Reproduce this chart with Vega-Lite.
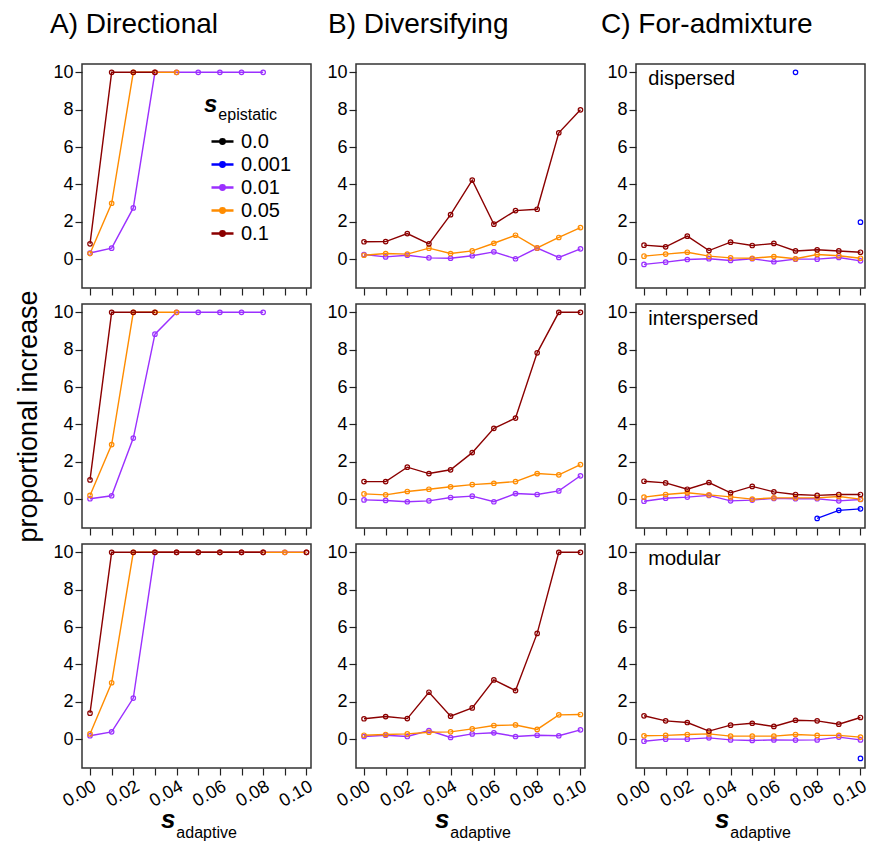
{
  "$schema": "https://vega.github.io/schema/vega-lite/v6.json",
  "padding": {"left": 14, "top": 10, "right": 5, "bottom": 5},
  "background": "white",
  "datasets": {
    "d": [
      {"model":"Directional","arch":"dispersed","eps":"0.01","s":0,"value":0.33},
      {"model":"Directional","arch":"dispersed","eps":"0.01","s":0.01,"value":0.59},
      {"model":"Directional","arch":"dispersed","eps":"0.01","s":0.02,"value":2.74},
      {"model":"Directional","arch":"dispersed","eps":"0.01","s":0.03,"value":10},
      {"model":"Directional","arch":"dispersed","eps":"0.01","s":0.04,"value":10},
      {"model":"Directional","arch":"dispersed","eps":"0.01","s":0.05,"value":10},
      {"model":"Directional","arch":"dispersed","eps":"0.01","s":0.06,"value":10},
      {"model":"Directional","arch":"dispersed","eps":"0.01","s":0.07,"value":10},
      {"model":"Directional","arch":"dispersed","eps":"0.01","s":0.08,"value":10},
      {"model":"Directional","arch":"dispersed","eps":"0.05","s":0,"value":0.3},
      {"model":"Directional","arch":"dispersed","eps":"0.05","s":0.01,"value":2.99},
      {"model":"Directional","arch":"dispersed","eps":"0.05","s":0.02,"value":10},
      {"model":"Directional","arch":"dispersed","eps":"0.05","s":0.03,"value":10},
      {"model":"Directional","arch":"dispersed","eps":"0.05","s":0.04,"value":10},
      {"model":"Directional","arch":"dispersed","eps":"0.1","s":0,"value":0.82},
      {"model":"Directional","arch":"dispersed","eps":"0.1","s":0.01,"value":10},
      {"model":"Directional","arch":"dispersed","eps":"0.1","s":0.02,"value":10},
      {"model":"Directional","arch":"dispersed","eps":"0.1","s":0.03,"value":10},

      {"model":"Directional","arch":"interspersed","eps":"0.01","s":0,"value":0.02},
      {"model":"Directional","arch":"interspersed","eps":"0.01","s":0.01,"value":0.18},
      {"model":"Directional","arch":"interspersed","eps":"0.01","s":0.02,"value":3.27},
      {"model":"Directional","arch":"interspersed","eps":"0.01","s":0.03,"value":8.83},
      {"model":"Directional","arch":"interspersed","eps":"0.01","s":0.04,"value":10},
      {"model":"Directional","arch":"interspersed","eps":"0.01","s":0.05,"value":10},
      {"model":"Directional","arch":"interspersed","eps":"0.01","s":0.06,"value":10},
      {"model":"Directional","arch":"interspersed","eps":"0.01","s":0.07,"value":10},
      {"model":"Directional","arch":"interspersed","eps":"0.01","s":0.08,"value":10},
      {"model":"Directional","arch":"interspersed","eps":"0.05","s":0,"value":0.2},
      {"model":"Directional","arch":"interspersed","eps":"0.05","s":0.01,"value":2.92},
      {"model":"Directional","arch":"interspersed","eps":"0.05","s":0.02,"value":10},
      {"model":"Directional","arch":"interspersed","eps":"0.05","s":0.03,"value":10},
      {"model":"Directional","arch":"interspersed","eps":"0.05","s":0.04,"value":10},
      {"model":"Directional","arch":"interspersed","eps":"0.1","s":0,"value":1.03},
      {"model":"Directional","arch":"interspersed","eps":"0.1","s":0.01,"value":10},
      {"model":"Directional","arch":"interspersed","eps":"0.1","s":0.02,"value":10},
      {"model":"Directional","arch":"interspersed","eps":"0.1","s":0.03,"value":10},

      {"model":"Directional","arch":"modular","eps":"0.01","s":0,"value":0.18},
      {"model":"Directional","arch":"modular","eps":"0.01","s":0.01,"value":0.39},
      {"model":"Directional","arch":"modular","eps":"0.01","s":0.02,"value":2.2},
      {"model":"Directional","arch":"modular","eps":"0.01","s":0.03,"value":10},
      {"model":"Directional","arch":"modular","eps":"0.01","s":0.04,"value":10},
      {"model":"Directional","arch":"modular","eps":"0.01","s":0.05,"value":10},
      {"model":"Directional","arch":"modular","eps":"0.01","s":0.06,"value":10},
      {"model":"Directional","arch":"modular","eps":"0.01","s":0.07,"value":10},
      {"model":"Directional","arch":"modular","eps":"0.01","s":0.08,"value":10},
      {"model":"Directional","arch":"modular","eps":"0.01","s":0.09,"value":10},
      {"model":"Directional","arch":"modular","eps":"0.01","s":0.1,"value":10},
      {"model":"Directional","arch":"modular","eps":"0.05","s":0,"value":0.28},
      {"model":"Directional","arch":"modular","eps":"0.05","s":0.01,"value":3.02},
      {"model":"Directional","arch":"modular","eps":"0.05","s":0.02,"value":10},
      {"model":"Directional","arch":"modular","eps":"0.05","s":0.03,"value":10},
      {"model":"Directional","arch":"modular","eps":"0.05","s":0.04,"value":10},
      {"model":"Directional","arch":"modular","eps":"0.05","s":0.05,"value":10},
      {"model":"Directional","arch":"modular","eps":"0.05","s":0.06,"value":10},
      {"model":"Directional","arch":"modular","eps":"0.05","s":0.07,"value":10},
      {"model":"Directional","arch":"modular","eps":"0.05","s":0.08,"value":10},
      {"model":"Directional","arch":"modular","eps":"0.05","s":0.09,"value":10},
      {"model":"Directional","arch":"modular","eps":"0.05","s":0.1,"value":10},
      {"model":"Directional","arch":"modular","eps":"0.1","s":0,"value":1.39},
      {"model":"Directional","arch":"modular","eps":"0.1","s":0.01,"value":10},
      {"model":"Directional","arch":"modular","eps":"0.1","s":0.02,"value":10},
      {"model":"Directional","arch":"modular","eps":"0.1","s":0.03,"value":10},
      {"model":"Directional","arch":"modular","eps":"0.1","s":0.04,"value":10},
      {"model":"Directional","arch":"modular","eps":"0.1","s":0.05,"value":10},
      {"model":"Directional","arch":"modular","eps":"0.1","s":0.06,"value":10},
      {"model":"Directional","arch":"modular","eps":"0.1","s":0.07,"value":10},
      {"model":"Directional","arch":"modular","eps":"0.1","s":0.08,"value":10},
      {"model":"Directional","arch":"modular","eps":"0.1","s":0.09,"value":null},
      {"model":"Directional","arch":"modular","eps":"0.1","s":0.1,"value":10},

      {"model":"Diversifying","arch":"dispersed","eps":"0.01","s":0,"value":0.25},
      {"model":"Diversifying","arch":"dispersed","eps":"0.01","s":0.01,"value":0.12},
      {"model":"Diversifying","arch":"dispersed","eps":"0.01","s":0.02,"value":0.21},
      {"model":"Diversifying","arch":"dispersed","eps":"0.01","s":0.03,"value":0.07},
      {"model":"Diversifying","arch":"dispersed","eps":"0.01","s":0.04,"value":0.05},
      {"model":"Diversifying","arch":"dispersed","eps":"0.01","s":0.05,"value":0.18},
      {"model":"Diversifying","arch":"dispersed","eps":"0.01","s":0.06,"value":0.39},
      {"model":"Diversifying","arch":"dispersed","eps":"0.01","s":0.07,"value":0.02},
      {"model":"Diversifying","arch":"dispersed","eps":"0.01","s":0.08,"value":0.59},
      {"model":"Diversifying","arch":"dispersed","eps":"0.01","s":0.09,"value":0.09},
      {"model":"Diversifying","arch":"dispersed","eps":"0.01","s":0.1,"value":0.55},
      {"model":"Diversifying","arch":"dispersed","eps":"0.05","s":0,"value":0.21},
      {"model":"Diversifying","arch":"dispersed","eps":"0.05","s":0.01,"value":0.3},
      {"model":"Diversifying","arch":"dispersed","eps":"0.05","s":0.02,"value":0.27},
      {"model":"Diversifying","arch":"dispersed","eps":"0.05","s":0.03,"value":0.59},
      {"model":"Diversifying","arch":"dispersed","eps":"0.05","s":0.04,"value":0.3},
      {"model":"Diversifying","arch":"dispersed","eps":"0.05","s":0.05,"value":0.44},
      {"model":"Diversifying","arch":"dispersed","eps":"0.05","s":0.06,"value":0.85},
      {"model":"Diversifying","arch":"dispersed","eps":"0.05","s":0.07,"value":1.28},
      {"model":"Diversifying","arch":"dispersed","eps":"0.05","s":0.08,"value":0.6},
      {"model":"Diversifying","arch":"dispersed","eps":"0.05","s":0.09,"value":1.16},
      {"model":"Diversifying","arch":"dispersed","eps":"0.05","s":0.1,"value":1.69},
      {"model":"Diversifying","arch":"dispersed","eps":"0.1","s":0,"value":0.93},
      {"model":"Diversifying","arch":"dispersed","eps":"0.1","s":0.01,"value":0.94},
      {"model":"Diversifying","arch":"dispersed","eps":"0.1","s":0.02,"value":1.37},
      {"model":"Diversifying","arch":"dispersed","eps":"0.1","s":0.03,"value":0.82},
      {"model":"Diversifying","arch":"dispersed","eps":"0.1","s":0.04,"value":2.38},
      {"model":"Diversifying","arch":"dispersed","eps":"0.1","s":0.05,"value":4.23},
      {"model":"Diversifying","arch":"dispersed","eps":"0.1","s":0.06,"value":1.87},
      {"model":"Diversifying","arch":"dispersed","eps":"0.1","s":0.07,"value":2.6},
      {"model":"Diversifying","arch":"dispersed","eps":"0.1","s":0.08,"value":2.67},
      {"model":"Diversifying","arch":"dispersed","eps":"0.1","s":0.09,"value":6.76},
      {"model":"Diversifying","arch":"dispersed","eps":"0.1","s":0.1,"value":7.99},

      {"model":"Diversifying","arch":"interspersed","eps":"0.01","s":0,"value":-0.04},
      {"model":"Diversifying","arch":"interspersed","eps":"0.01","s":0.01,"value":-0.07},
      {"model":"Diversifying","arch":"interspersed","eps":"0.01","s":0.02,"value":-0.14},
      {"model":"Diversifying","arch":"interspersed","eps":"0.01","s":0.03,"value":-0.09},
      {"model":"Diversifying","arch":"interspersed","eps":"0.01","s":0.04,"value":0.09},
      {"model":"Diversifying","arch":"interspersed","eps":"0.01","s":0.05,"value":0.16},
      {"model":"Diversifying","arch":"interspersed","eps":"0.01","s":0.06,"value":-0.14},
      {"model":"Diversifying","arch":"interspersed","eps":"0.01","s":0.07,"value":0.3},
      {"model":"Diversifying","arch":"interspersed","eps":"0.01","s":0.08,"value":0.25},
      {"model":"Diversifying","arch":"interspersed","eps":"0.01","s":0.09,"value":0.44},
      {"model":"Diversifying","arch":"interspersed","eps":"0.01","s":0.1,"value":1.25},
      {"model":"Diversifying","arch":"interspersed","eps":"0.05","s":0,"value":0.28},
      {"model":"Diversifying","arch":"interspersed","eps":"0.05","s":0.01,"value":0.23},
      {"model":"Diversifying","arch":"interspersed","eps":"0.05","s":0.02,"value":0.41},
      {"model":"Diversifying","arch":"interspersed","eps":"0.05","s":0.03,"value":0.53},
      {"model":"Diversifying","arch":"interspersed","eps":"0.05","s":0.04,"value":0.66},
      {"model":"Diversifying","arch":"interspersed","eps":"0.05","s":0.05,"value":0.78},
      {"model":"Diversifying","arch":"interspersed","eps":"0.05","s":0.06,"value":0.85},
      {"model":"Diversifying","arch":"interspersed","eps":"0.05","s":0.07,"value":0.94},
      {"model":"Diversifying","arch":"interspersed","eps":"0.05","s":0.08,"value":1.37},
      {"model":"Diversifying","arch":"interspersed","eps":"0.05","s":0.09,"value":1.3},
      {"model":"Diversifying","arch":"interspersed","eps":"0.05","s":0.1,"value":1.85},
      {"model":"Diversifying","arch":"interspersed","eps":"0.1","s":0,"value":0.94},
      {"model":"Diversifying","arch":"interspersed","eps":"0.1","s":0.01,"value":0.94},
      {"model":"Diversifying","arch":"interspersed","eps":"0.1","s":0.02,"value":1.71},
      {"model":"Diversifying","arch":"interspersed","eps":"0.1","s":0.03,"value":1.37},
      {"model":"Diversifying","arch":"interspersed","eps":"0.1","s":0.04,"value":1.57},
      {"model":"Diversifying","arch":"interspersed","eps":"0.1","s":0.05,"value":2.49},
      {"model":"Diversifying","arch":"interspersed","eps":"0.1","s":0.06,"value":3.79},
      {"model":"Diversifying","arch":"interspersed","eps":"0.1","s":0.07,"value":4.34},
      {"model":"Diversifying","arch":"interspersed","eps":"0.1","s":0.08,"value":7.83},
      {"model":"Diversifying","arch":"interspersed","eps":"0.1","s":0.09,"value":10},
      {"model":"Diversifying","arch":"interspersed","eps":"0.1","s":0.1,"value":10},

      {"model":"Diversifying","arch":"modular","eps":"0.01","s":0,"value":0.14},
      {"model":"Diversifying","arch":"modular","eps":"0.01","s":0.01,"value":0.21},
      {"model":"Diversifying","arch":"modular","eps":"0.01","s":0.02,"value":0.14},
      {"model":"Diversifying","arch":"modular","eps":"0.01","s":0.03,"value":0.46},
      {"model":"Diversifying","arch":"modular","eps":"0.01","s":0.04,"value":0.09},
      {"model":"Diversifying","arch":"modular","eps":"0.01","s":0.05,"value":0.28},
      {"model":"Diversifying","arch":"modular","eps":"0.01","s":0.06,"value":0.34},
      {"model":"Diversifying","arch":"modular","eps":"0.01","s":0.07,"value":0.14},
      {"model":"Diversifying","arch":"modular","eps":"0.01","s":0.08,"value":0.21},
      {"model":"Diversifying","arch":"modular","eps":"0.01","s":0.09,"value":0.18},
      {"model":"Diversifying","arch":"modular","eps":"0.01","s":0.1,"value":0.5},
      {"model":"Diversifying","arch":"modular","eps":"0.05","s":0,"value":0.21},
      {"model":"Diversifying","arch":"modular","eps":"0.05","s":0.01,"value":0.25},
      {"model":"Diversifying","arch":"modular","eps":"0.05","s":0.02,"value":0.28},
      {"model":"Diversifying","arch":"modular","eps":"0.05","s":0.03,"value":0.37},
      {"model":"Diversifying","arch":"modular","eps":"0.05","s":0.04,"value":0.39},
      {"model":"Diversifying","arch":"modular","eps":"0.05","s":0.05,"value":0.55},
      {"model":"Diversifying","arch":"modular","eps":"0.05","s":0.06,"value":0.73},
      {"model":"Diversifying","arch":"modular","eps":"0.05","s":0.07,"value":0.76},
      {"model":"Diversifying","arch":"modular","eps":"0.05","s":0.08,"value":0.52},
      {"model":"Diversifying","arch":"modular","eps":"0.05","s":0.09,"value":1.3},
      {"model":"Diversifying","arch":"modular","eps":"0.05","s":0.1,"value":1.32},
      {"model":"Diversifying","arch":"modular","eps":"0.1","s":0,"value":1.09},
      {"model":"Diversifying","arch":"modular","eps":"0.1","s":0.01,"value":1.21},
      {"model":"Diversifying","arch":"modular","eps":"0.1","s":0.02,"value":1.1},
      {"model":"Diversifying","arch":"modular","eps":"0.1","s":0.03,"value":2.51},
      {"model":"Diversifying","arch":"modular","eps":"0.1","s":0.04,"value":1.23},
      {"model":"Diversifying","arch":"modular","eps":"0.1","s":0.05,"value":1.67},
      {"model":"Diversifying","arch":"modular","eps":"0.1","s":0.06,"value":3.17},
      {"model":"Diversifying","arch":"modular","eps":"0.1","s":0.07,"value":2.6},
      {"model":"Diversifying","arch":"modular","eps":"0.1","s":0.08,"value":5.66},
      {"model":"Diversifying","arch":"modular","eps":"0.1","s":0.09,"value":10},
      {"model":"Diversifying","arch":"modular","eps":"0.1","s":0.1,"value":10},

      {"model":"For-admixture","arch":"dispersed","eps":"0.001","s":0.07,"value":10},
      {"model":"For-admixture","arch":"dispersed","eps":"0.001","s":0.08,"value":null},
      {"model":"For-admixture","arch":"dispersed","eps":"0.001","s":0.09,"value":null},
      {"model":"For-admixture","arch":"dispersed","eps":"0.001","s":0.1,"value":1.98},
      {"model":"For-admixture","arch":"dispersed","eps":"0.01","s":0,"value":-0.28},
      {"model":"For-admixture","arch":"dispersed","eps":"0.01","s":0.01,"value":-0.16},
      {"model":"For-admixture","arch":"dispersed","eps":"0.01","s":0.02,"value":-0.02},
      {"model":"For-admixture","arch":"dispersed","eps":"0.01","s":0.03,"value":0.02},
      {"model":"For-admixture","arch":"dispersed","eps":"0.01","s":0.04,"value":-0.07},
      {"model":"For-admixture","arch":"dispersed","eps":"0.01","s":0.05,"value":0.02},
      {"model":"For-admixture","arch":"dispersed","eps":"0.01","s":0.06,"value":-0.14},
      {"model":"For-admixture","arch":"dispersed","eps":"0.01","s":0.07,"value":0},
      {"model":"For-admixture","arch":"dispersed","eps":"0.01","s":0.08,"value":0},
      {"model":"For-admixture","arch":"dispersed","eps":"0.01","s":0.09,"value":0.09},
      {"model":"For-admixture","arch":"dispersed","eps":"0.01","s":0.1,"value":-0.09},
      {"model":"For-admixture","arch":"dispersed","eps":"0.05","s":0,"value":0.16},
      {"model":"For-admixture","arch":"dispersed","eps":"0.05","s":0.01,"value":0.27},
      {"model":"For-admixture","arch":"dispersed","eps":"0.05","s":0.02,"value":0.37},
      {"model":"For-admixture","arch":"dispersed","eps":"0.05","s":0.03,"value":0.16},
      {"model":"For-admixture","arch":"dispersed","eps":"0.05","s":0.04,"value":0.07},
      {"model":"For-admixture","arch":"dispersed","eps":"0.05","s":0.05,"value":0.05},
      {"model":"For-admixture","arch":"dispersed","eps":"0.05","s":0.06,"value":0.14},
      {"model":"For-admixture","arch":"dispersed","eps":"0.05","s":0.07,"value":0.02},
      {"model":"For-admixture","arch":"dispersed","eps":"0.05","s":0.08,"value":0.25},
      {"model":"For-admixture","arch":"dispersed","eps":"0.05","s":0.09,"value":0.18},
      {"model":"For-admixture","arch":"dispersed","eps":"0.05","s":0.1,"value":0.05},
      {"model":"For-admixture","arch":"dispersed","eps":"0.1","s":0,"value":0.75},
      {"model":"For-admixture","arch":"dispersed","eps":"0.1","s":0.01,"value":0.66},
      {"model":"For-admixture","arch":"dispersed","eps":"0.1","s":0.02,"value":1.23},
      {"model":"For-admixture","arch":"dispersed","eps":"0.1","s":0.03,"value":0.46},
      {"model":"For-admixture","arch":"dispersed","eps":"0.1","s":0.04,"value":0.91},
      {"model":"For-admixture","arch":"dispersed","eps":"0.1","s":0.05,"value":0.73},
      {"model":"For-admixture","arch":"dispersed","eps":"0.1","s":0.06,"value":0.84},
      {"model":"For-admixture","arch":"dispersed","eps":"0.1","s":0.07,"value":0.44},
      {"model":"For-admixture","arch":"dispersed","eps":"0.1","s":0.08,"value":0.5},
      {"model":"For-admixture","arch":"dispersed","eps":"0.1","s":0.09,"value":0.44},
      {"model":"For-admixture","arch":"dispersed","eps":"0.1","s":0.1,"value":0.37},

      {"model":"For-admixture","arch":"interspersed","eps":"0.001","s":0.08,"value":-1.03},
      {"model":"For-admixture","arch":"interspersed","eps":"0.001","s":0.09,"value":-0.6},
      {"model":"For-admixture","arch":"interspersed","eps":"0.001","s":0.1,"value":-0.52},
      {"model":"For-admixture","arch":"interspersed","eps":"0.01","s":0,"value":-0.11},
      {"model":"For-admixture","arch":"interspersed","eps":"0.01","s":0.01,"value":0.05},
      {"model":"For-admixture","arch":"interspersed","eps":"0.01","s":0.02,"value":0.11},
      {"model":"For-admixture","arch":"interspersed","eps":"0.01","s":0.03,"value":0.2},
      {"model":"For-admixture","arch":"interspersed","eps":"0.01","s":0.04,"value":-0.09},
      {"model":"For-admixture","arch":"interspersed","eps":"0.01","s":0.05,"value":-0.05},
      {"model":"For-admixture","arch":"interspersed","eps":"0.01","s":0.06,"value":0.04},
      {"model":"For-admixture","arch":"interspersed","eps":"0.01","s":0.07,"value":0.02},
      {"model":"For-admixture","arch":"interspersed","eps":"0.01","s":0.08,"value":0.02},
      {"model":"For-admixture","arch":"interspersed","eps":"0.01","s":0.09,"value":-0.09},
      {"model":"For-admixture","arch":"interspersed","eps":"0.01","s":0.1,"value":-0.02},
      {"model":"For-admixture","arch":"interspersed","eps":"0.05","s":0,"value":0.11},
      {"model":"For-admixture","arch":"interspersed","eps":"0.05","s":0.01,"value":0.25},
      {"model":"For-admixture","arch":"interspersed","eps":"0.05","s":0.02,"value":0.34},
      {"model":"For-admixture","arch":"interspersed","eps":"0.05","s":0.03,"value":0.23},
      {"model":"For-admixture","arch":"interspersed","eps":"0.05","s":0.04,"value":0.12},
      {"model":"For-admixture","arch":"interspersed","eps":"0.05","s":0.05,"value":0},
      {"model":"For-admixture","arch":"interspersed","eps":"0.05","s":0.06,"value":0.07},
      {"model":"For-admixture","arch":"interspersed","eps":"0.05","s":0.07,"value":0.07},
      {"model":"For-admixture","arch":"interspersed","eps":"0.05","s":0.08,"value":0.07},
      {"model":"For-admixture","arch":"interspersed","eps":"0.05","s":0.09,"value":0.14},
      {"model":"For-admixture","arch":"interspersed","eps":"0.05","s":0.1,"value":0},
      {"model":"For-admixture","arch":"interspersed","eps":"0.1","s":0,"value":0.96},
      {"model":"For-admixture","arch":"interspersed","eps":"0.1","s":0.01,"value":0.87},
      {"model":"For-admixture","arch":"interspersed","eps":"0.1","s":0.02,"value":0.53},
      {"model":"For-admixture","arch":"interspersed","eps":"0.1","s":0.03,"value":0.89},
      {"model":"For-admixture","arch":"interspersed","eps":"0.1","s":0.04,"value":0.34},
      {"model":"For-admixture","arch":"interspersed","eps":"0.1","s":0.05,"value":0.68},
      {"model":"For-admixture","arch":"interspersed","eps":"0.1","s":0.06,"value":0.39},
      {"model":"For-admixture","arch":"interspersed","eps":"0.1","s":0.07,"value":0.25},
      {"model":"For-admixture","arch":"interspersed","eps":"0.1","s":0.08,"value":0.2},
      {"model":"For-admixture","arch":"interspersed","eps":"0.1","s":0.09,"value":0.25},
      {"model":"For-admixture","arch":"interspersed","eps":"0.1","s":0.1,"value":0.25},

      {"model":"For-admixture","arch":"modular","eps":"0.001","s":0.1,"value":-1.03},
      {"model":"For-admixture","arch":"modular","eps":"0.01","s":0,"value":-0.11},
      {"model":"For-admixture","arch":"modular","eps":"0.01","s":0.01,"value":0},
      {"model":"For-admixture","arch":"modular","eps":"0.01","s":0.02,"value":0},
      {"model":"For-admixture","arch":"modular","eps":"0.01","s":0.03,"value":0.07},
      {"model":"For-admixture","arch":"modular","eps":"0.01","s":0.04,"value":-0.04},
      {"model":"For-admixture","arch":"modular","eps":"0.01","s":0.05,"value":-0.07},
      {"model":"For-admixture","arch":"modular","eps":"0.01","s":0.06,"value":-0.04},
      {"model":"For-admixture","arch":"modular","eps":"0.01","s":0.07,"value":-0.05},
      {"model":"For-admixture","arch":"modular","eps":"0.01","s":0.08,"value":-0.04},
      {"model":"For-admixture","arch":"modular","eps":"0.01","s":0.09,"value":0.11},
      {"model":"For-admixture","arch":"modular","eps":"0.01","s":0.1,"value":-0.04},
      {"model":"For-admixture","arch":"modular","eps":"0.05","s":0,"value":0.18},
      {"model":"For-admixture","arch":"modular","eps":"0.05","s":0.01,"value":0.2},
      {"model":"For-admixture","arch":"modular","eps":"0.05","s":0.02,"value":0.25},
      {"model":"For-admixture","arch":"modular","eps":"0.05","s":0.03,"value":0.28},
      {"model":"For-admixture","arch":"modular","eps":"0.05","s":0.04,"value":0.16},
      {"model":"For-admixture","arch":"modular","eps":"0.05","s":0.05,"value":0.16},
      {"model":"For-admixture","arch":"modular","eps":"0.05","s":0.06,"value":0.16},
      {"model":"For-admixture","arch":"modular","eps":"0.05","s":0.07,"value":0.25},
      {"model":"For-admixture","arch":"modular","eps":"0.05","s":0.08,"value":0.2},
      {"model":"For-admixture","arch":"modular","eps":"0.05","s":0.09,"value":0.2},
      {"model":"For-admixture","arch":"modular","eps":"0.05","s":0.1,"value":0.11},
      {"model":"For-admixture","arch":"modular","eps":"0.1","s":0,"value":1.25},
      {"model":"For-admixture","arch":"modular","eps":"0.1","s":0.01,"value":0.98},
      {"model":"For-admixture","arch":"modular","eps":"0.1","s":0.02,"value":0.89},
      {"model":"For-admixture","arch":"modular","eps":"0.1","s":0.03,"value":0.43},
      {"model":"For-admixture","arch":"modular","eps":"0.1","s":0.04,"value":0.75},
      {"model":"For-admixture","arch":"modular","eps":"0.1","s":0.05,"value":0.85},
      {"model":"For-admixture","arch":"modular","eps":"0.1","s":0.06,"value":0.68},
      {"model":"For-admixture","arch":"modular","eps":"0.1","s":0.07,"value":1.01},
      {"model":"For-admixture","arch":"modular","eps":"0.1","s":0.08,"value":0.98},
      {"model":"For-admixture","arch":"modular","eps":"0.1","s":0.09,"value":0.8},
      {"model":"For-admixture","arch":"modular","eps":"0.1","s":0.1,"value":1.16}
    ]
  },
  "config": {
    "font": "Liberation Sans",
    "view": {"stroke": "#333333", "strokeWidth": 1.5},
    "axis": {"domain": false, "grid": false, "tickColor": "#222222", "tickSize": 7, "tickWidth": 1.2, "labelFontSize": 18, "labelColor": "#000000", "labelPadding": 2, "labelOverlap": false, "labelFlush": false, "titleFontSize": 27, "titleFontWeight": "normal", "titleColor": "#000000"},
    "axisX": {"labelAngle": -30, "labelAlign": "right", "labelBaseline": "top", "labelPadding": 2},
    "axisY": {"titlePadding": 10},
    "title": {"fontSize": 28, "fontWeight": "normal", "anchor": "start", "frame": "group", "offset": 24, "color": "#000000"}
  },
  "spacing": 9,
  "resolve": {"scale": {"color": "independent"}, "legend": {"color": "independent"}},
  "hconcat": [
    {
      "bounds": "flush",
      "spacing": 16,
      "resolve": {"scale": {"color": "independent"}, "legend": {"color": "independent"}},
      "vconcat": [
        {
          "width": 229, "height": 224,
          "title": {"text": "A) Directional", "dx": -32},
          "encoding": {
            "x": {"field": "s", "type": "quantitative", "scale": {"domain": [-0.0037, 0.1021], "nice": false, "zero": false}, "axis": {"values": [0,0.01,0.02,0.03,0.04,0.05,0.06,0.07,0.08,0.09,0.1], "labels": false, "title": null}},
            "y": {"field": "value", "type": "quantitative", "scale": {"domain": [-1.544, 10.444], "nice": false, "zero": false}, "axis": {"values": [0,2,4,6,8,10], "title": null}}
          },
          "layer": [
            {"data": {"name": "d"}, "transform": [{"filter": "datum.model=='Directional' && datum.arch=='dispersed'"}], "mark": {"type": "line", "strokeWidth": 1.4, "invalid": "break-paths-filter-domains"},
             "encoding": {"color": {"field": "eps", "type": "nominal", "scale": {"domain": ["0.0","0.001","0.01","0.05","0.1"], "range": ["#000000","#0000FF","#9B30FF","#FF8C00","#8B0000"]},
               "legend": {"orient": "none", "legendX": 128, "legendY": 65, "title": null, "labelFontSize": 20, "labelColor": "#000000", "labelOffset": 6, "symbolType": "M-1,0H1M-0.2,0A0.2,0.2 0 1,0 0.2,0A0.2,0.2 0 1,0 -0.2,0", "symbolSize": 484, "symbolStrokeWidth": 2.5, "rowPadding": 0, "padding": 0}}}},
            {"data": {"name": "d"}, "transform": [{"filter": "datum.model=='Directional' && datum.arch=='dispersed'"}], "mark": {"type": "point", "size": 20, "strokeWidth": 1.2, "filled": false, "opacity": 1},
             "encoding": {"color": {"field": "eps", "type": "nominal", "scale": {"domain": ["0.0","0.001","0.01","0.05","0.1"], "range": ["#000000","#0000FF","#9B30FF","#FF8C00","#8B0000"]},
               "legend": {"orient": "none", "legendX": 128, "legendY": 65, "title": null, "labelFontSize": 20, "labelColor": "#000000", "labelOffset": 6, "symbolType": "M-1,0H1M-0.2,0A0.2,0.2 0 1,0 0.2,0A0.2,0.2 0 1,0 -0.2,0", "symbolSize": 484, "symbolStrokeWidth": 2.5, "rowPadding": 0, "padding": 0}}}},
            {"data": {"name": "d"}, "transform": [{"filter": "datum.model=='Directional' && datum.arch=='dispersed' && datum.eps=='0.1' && datum.s==0"}], "mark": {"type": "text", "fontSize": 24, "fontWeight": "bold", "fontStyle": "italic", "align": "right", "baseline": "alphabetic", "fill": "#000000"}, "encoding": {"text": {"value": "s"}, "x": {"datum": 0.0588}, "y": {"datum": 7.85}}},
            {"data": {"name": "d"}, "transform": [{"filter": "datum.model=='Directional' && datum.arch=='dispersed' && datum.eps=='0.1' && datum.s==0"}], "mark": {"type": "text", "fontSize": 16, "align": "left", "baseline": "alphabetic", "fill": "#000000"}, "encoding": {"text": {"value": "epistatic"}, "x": {"datum": 0.0593}, "y": {"datum": 7.47}}}
          ]
        },
        {
          "width": 229, "height": 224,
          "encoding": {
            "x": {"field": "s", "type": "quantitative", "scale": {"domain": [-0.0037, 0.1021], "nice": false, "zero": false}, "axis": {"values": [0,0.01,0.02,0.03,0.04,0.05,0.06,0.07,0.08,0.09,0.1], "labels": false, "title": null}},
            "y": {"field": "value", "type": "quantitative", "scale": {"domain": [-1.544, 10.444], "nice": false, "zero": false}, "axis": {"values": [0,2,4,6,8,10], "title": "proportional increase"}},
            "color": {"field": "eps", "type": "nominal", "scale": {"domain": ["0.0","0.001","0.01","0.05","0.1"], "range": ["#000000","#0000FF","#9B30FF","#FF8C00","#8B0000"]}, "legend": null}
          },
          "layer": [
            {"data": {"name": "d"}, "transform": [{"filter": "datum.model=='Directional' && datum.arch=='interspersed'"}], "mark": {"type": "line", "strokeWidth": 1.4, "invalid": "break-paths-filter-domains"}},
            {"data": {"name": "d"}, "transform": [{"filter": "datum.model=='Directional' && datum.arch=='interspersed'"}], "mark": {"type": "point", "size": 20, "strokeWidth": 1.2, "filled": false, "opacity": 1}}
          ]
        },
        {
          "width": 229, "height": 224,
          "encoding": {
            "x": {"field": "s", "type": "quantitative", "scale": {"domain": [-0.0037, 0.1021], "nice": false, "zero": false}, "axis": {"values": [0,0.01,0.02,0.03,0.04,0.05,0.06,0.07,0.08,0.09,0.1], "title": null, "labelExpr": "round(datum.value*100) % 2 == 0 ? format(datum.value, '.2f') : ''"}},
            "y": {"field": "value", "type": "quantitative", "scale": {"domain": [-1.544, 10.444], "nice": false, "zero": false}, "axis": {"values": [0,2,4,6,8,10], "title": null}}
          },
          "layer": [
            {"data": {"name": "d"}, "transform": [{"filter": "datum.model=='Directional' && datum.arch=='modular'"}], "mark": {"type": "line", "strokeWidth": 1.4, "invalid": "break-paths-filter-domains"},
             "encoding": {"color": {"field": "eps", "type": "nominal", "scale": {"domain": ["0.0","0.001","0.01","0.05","0.1"], "range": ["#000000","#0000FF","#9B30FF","#FF8C00","#8B0000"]}, "legend": null}}},
            {"data": {"name": "d"}, "transform": [{"filter": "datum.model=='Directional' && datum.arch=='modular'"}], "mark": {"type": "point", "size": 20, "strokeWidth": 1.2, "filled": false, "opacity": 1},
             "encoding": {"color": {"field": "eps", "type": "nominal", "scale": {"domain": ["0.0","0.001","0.01","0.05","0.1"], "range": ["#000000","#0000FF","#9B30FF","#FF8C00","#8B0000"]}, "legend": null}}},
            {"data": {"name": "d"}, "transform": [{"filter": "datum.model=='Directional' && datum.arch=='modular' && datum.eps=='0.1' && datum.s==0"}], "mark": {"type": "text", "fontSize": 26, "fontWeight": "bold", "fontStyle": "italic", "align": "right", "baseline": "alphabetic", "fill": "#000000"}, "encoding": {"text": {"value": "s"}, "x": {"datum": 0.0395}, "y": {"datum": -4.74}}},
            {"data": {"name": "d"}, "transform": [{"filter": "datum.model=='Directional' && datum.arch=='modular' && datum.eps=='0.1' && datum.s==0"}], "mark": {"type": "text", "fontSize": 16, "align": "left", "baseline": "alphabetic", "fill": "#000000"}, "encoding": {"text": {"value": "adaptive"}, "x": {"datum": 0.0399}, "y": {"datum": -5.27}}}
          ]
        }
      ]
    },
    {
      "bounds": "flush",
      "spacing": 16,
      "resolve": {"scale": {"color": "independent"}, "legend": {"color": "independent"}},
      "vconcat": [
        {
          "width": 229, "height": 224,
          "title": {"text": "B) Diversifying", "dx": -28},
          "encoding": {
            "x": {"field": "s", "type": "quantitative", "scale": {"domain": [-0.0037, 0.1021], "nice": false, "zero": false}, "axis": {"values": [0,0.01,0.02,0.03,0.04,0.05,0.06,0.07,0.08,0.09,0.1], "labels": false, "title": null}},
            "y": {"field": "value", "type": "quantitative", "scale": {"domain": [-1.544, 10.444], "nice": false, "zero": false}, "axis": {"values": [0,2,4,6,8,10], "title": null}},
            "color": {"field": "eps", "type": "nominal", "scale": {"domain": ["0.0","0.001","0.01","0.05","0.1"], "range": ["#000000","#0000FF","#9B30FF","#FF8C00","#8B0000"]}, "legend": null}
          },
          "layer": [
            {"data": {"name": "d"}, "transform": [{"filter": "datum.model=='Diversifying' && datum.arch=='dispersed'"}], "mark": {"type": "line", "strokeWidth": 1.4, "invalid": "break-paths-filter-domains"}},
            {"data": {"name": "d"}, "transform": [{"filter": "datum.model=='Diversifying' && datum.arch=='dispersed'"}], "mark": {"type": "point", "size": 20, "strokeWidth": 1.2, "filled": false, "opacity": 1}}
          ]
        },
        {
          "width": 229, "height": 224,
          "encoding": {
            "x": {"field": "s", "type": "quantitative", "scale": {"domain": [-0.0037, 0.1021], "nice": false, "zero": false}, "axis": {"values": [0,0.01,0.02,0.03,0.04,0.05,0.06,0.07,0.08,0.09,0.1], "labels": false, "title": null}},
            "y": {"field": "value", "type": "quantitative", "scale": {"domain": [-1.544, 10.444], "nice": false, "zero": false}, "axis": {"values": [0,2,4,6,8,10], "title": null}},
            "color": {"field": "eps", "type": "nominal", "scale": {"domain": ["0.0","0.001","0.01","0.05","0.1"], "range": ["#000000","#0000FF","#9B30FF","#FF8C00","#8B0000"]}, "legend": null}
          },
          "layer": [
            {"data": {"name": "d"}, "transform": [{"filter": "datum.model=='Diversifying' && datum.arch=='interspersed'"}], "mark": {"type": "line", "strokeWidth": 1.4, "invalid": "break-paths-filter-domains"}},
            {"data": {"name": "d"}, "transform": [{"filter": "datum.model=='Diversifying' && datum.arch=='interspersed'"}], "mark": {"type": "point", "size": 20, "strokeWidth": 1.2, "filled": false, "opacity": 1}}
          ]
        },
        {
          "width": 229, "height": 224,
          "encoding": {
            "x": {"field": "s", "type": "quantitative", "scale": {"domain": [-0.0037, 0.1021], "nice": false, "zero": false}, "axis": {"values": [0,0.01,0.02,0.03,0.04,0.05,0.06,0.07,0.08,0.09,0.1], "title": null, "labelExpr": "round(datum.value*100) % 2 == 0 ? format(datum.value, '.2f') : ''"}},
            "y": {"field": "value", "type": "quantitative", "scale": {"domain": [-1.544, 10.444], "nice": false, "zero": false}, "axis": {"values": [0,2,4,6,8,10], "title": null}}
          },
          "layer": [
            {"data": {"name": "d"}, "transform": [{"filter": "datum.model=='Diversifying' && datum.arch=='modular'"}], "mark": {"type": "line", "strokeWidth": 1.4, "invalid": "break-paths-filter-domains"},
             "encoding": {"color": {"field": "eps", "type": "nominal", "scale": {"domain": ["0.0","0.001","0.01","0.05","0.1"], "range": ["#000000","#0000FF","#9B30FF","#FF8C00","#8B0000"]}, "legend": null}}},
            {"data": {"name": "d"}, "transform": [{"filter": "datum.model=='Diversifying' && datum.arch=='modular'"}], "mark": {"type": "point", "size": 20, "strokeWidth": 1.2, "filled": false, "opacity": 1},
             "encoding": {"color": {"field": "eps", "type": "nominal", "scale": {"domain": ["0.0","0.001","0.01","0.05","0.1"], "range": ["#000000","#0000FF","#9B30FF","#FF8C00","#8B0000"]}, "legend": null}}},
            {"data": {"name": "d"}, "transform": [{"filter": "datum.model=='Diversifying' && datum.arch=='modular' && datum.eps=='0.1' && datum.s==0"}], "mark": {"type": "text", "fontSize": 26, "fontWeight": "bold", "fontStyle": "italic", "align": "right", "baseline": "alphabetic", "fill": "#000000"}, "encoding": {"text": {"value": "s"}, "x": {"datum": 0.0395}, "y": {"datum": -4.74}}},
            {"data": {"name": "d"}, "transform": [{"filter": "datum.model=='Diversifying' && datum.arch=='modular' && datum.eps=='0.1' && datum.s==0"}], "mark": {"type": "text", "fontSize": 16, "align": "left", "baseline": "alphabetic", "fill": "#000000"}, "encoding": {"text": {"value": "adaptive"}, "x": {"datum": 0.0399}, "y": {"datum": -5.27}}}
          ]
        }
      ]
    },
    {
      "bounds": "flush",
      "spacing": 16,
      "resolve": {"scale": {"color": "independent"}, "legend": {"color": "independent"}},
      "vconcat": [
        {
          "width": 229, "height": 224,
          "title": {"text": "C) For-admixture", "dx": -35},
          "encoding": {
            "x": {"field": "s", "type": "quantitative", "scale": {"domain": [-0.0037, 0.1021], "nice": false, "zero": false}, "axis": {"values": [0,0.01,0.02,0.03,0.04,0.05,0.06,0.07,0.08,0.09,0.1], "labels": false, "title": null}},
            "y": {"field": "value", "type": "quantitative", "scale": {"domain": [-1.544, 10.444], "nice": false, "zero": false}, "axis": {"values": [0,2,4,6,8,10], "title": null}}
          },
          "layer": [
            {"data": {"name": "d"}, "transform": [{"filter": "datum.model=='For-admixture' && datum.arch=='dispersed'"}], "mark": {"type": "line", "strokeWidth": 1.4, "invalid": "break-paths-filter-domains"},
             "encoding": {"color": {"field": "eps", "type": "nominal", "scale": {"domain": ["0.0","0.001","0.01","0.05","0.1"], "range": ["#000000","#0000FF","#9B30FF","#FF8C00","#8B0000"]}, "legend": null}}},
            {"data": {"name": "d"}, "transform": [{"filter": "datum.model=='For-admixture' && datum.arch=='dispersed'"}], "mark": {"type": "point", "size": 20, "strokeWidth": 1.2, "filled": false, "opacity": 1},
             "encoding": {"color": {"field": "eps", "type": "nominal", "scale": {"domain": ["0.0","0.001","0.01","0.05","0.1"], "range": ["#000000","#0000FF","#9B30FF","#FF8C00","#8B0000"]}, "legend": null}}},
            {"data": {"name": "d"}, "transform": [{"filter": "datum.model=='For-admixture' && datum.arch=='dispersed' && datum.eps=='0.1' && datum.s==0"}], "mark": {"type": "text", "fontSize": 20, "align": "left", "baseline": "alphabetic", "fill": "#000000"}, "encoding": {"text": {"value": "dispersed"}, "x": {"datum": 0.002}, "y": {"datum": 9.3}}}
          ]
        },
        {
          "width": 229, "height": 224,
          "encoding": {
            "x": {"field": "s", "type": "quantitative", "scale": {"domain": [-0.0037, 0.1021], "nice": false, "zero": false}, "axis": {"values": [0,0.01,0.02,0.03,0.04,0.05,0.06,0.07,0.08,0.09,0.1], "labels": false, "title": null}},
            "y": {"field": "value", "type": "quantitative", "scale": {"domain": [-1.544, 10.444], "nice": false, "zero": false}, "axis": {"values": [0,2,4,6,8,10], "title": null}}
          },
          "layer": [
            {"data": {"name": "d"}, "transform": [{"filter": "datum.model=='For-admixture' && datum.arch=='interspersed'"}], "mark": {"type": "line", "strokeWidth": 1.4, "invalid": "break-paths-filter-domains"},
             "encoding": {"color": {"field": "eps", "type": "nominal", "scale": {"domain": ["0.0","0.001","0.01","0.05","0.1"], "range": ["#000000","#0000FF","#9B30FF","#FF8C00","#8B0000"]}, "legend": null}}},
            {"data": {"name": "d"}, "transform": [{"filter": "datum.model=='For-admixture' && datum.arch=='interspersed'"}], "mark": {"type": "point", "size": 20, "strokeWidth": 1.2, "filled": false, "opacity": 1},
             "encoding": {"color": {"field": "eps", "type": "nominal", "scale": {"domain": ["0.0","0.001","0.01","0.05","0.1"], "range": ["#000000","#0000FF","#9B30FF","#FF8C00","#8B0000"]}, "legend": null}}},
            {"data": {"name": "d"}, "transform": [{"filter": "datum.model=='For-admixture' && datum.arch=='interspersed' && datum.eps=='0.1' && datum.s==0"}], "mark": {"type": "text", "fontSize": 20, "align": "left", "baseline": "alphabetic", "fill": "#000000"}, "encoding": {"text": {"value": "interspersed"}, "x": {"datum": 0.002}, "y": {"datum": 9.3}}}
          ]
        },
        {
          "width": 229, "height": 224,
          "encoding": {
            "x": {"field": "s", "type": "quantitative", "scale": {"domain": [-0.0037, 0.1021], "nice": false, "zero": false}, "axis": {"values": [0,0.01,0.02,0.03,0.04,0.05,0.06,0.07,0.08,0.09,0.1], "title": null, "labelExpr": "round(datum.value*100) % 2 == 0 ? format(datum.value, '.2f') : ''"}},
            "y": {"field": "value", "type": "quantitative", "scale": {"domain": [-1.544, 10.444], "nice": false, "zero": false}, "axis": {"values": [0,2,4,6,8,10], "title": null}}
          },
          "layer": [
            {"data": {"name": "d"}, "transform": [{"filter": "datum.model=='For-admixture' && datum.arch=='modular'"}], "mark": {"type": "line", "strokeWidth": 1.4, "invalid": "break-paths-filter-domains"},
             "encoding": {"color": {"field": "eps", "type": "nominal", "scale": {"domain": ["0.0","0.001","0.01","0.05","0.1"], "range": ["#000000","#0000FF","#9B30FF","#FF8C00","#8B0000"]}, "legend": null}}},
            {"data": {"name": "d"}, "transform": [{"filter": "datum.model=='For-admixture' && datum.arch=='modular'"}], "mark": {"type": "point", "size": 20, "strokeWidth": 1.2, "filled": false, "opacity": 1},
             "encoding": {"color": {"field": "eps", "type": "nominal", "scale": {"domain": ["0.0","0.001","0.01","0.05","0.1"], "range": ["#000000","#0000FF","#9B30FF","#FF8C00","#8B0000"]}, "legend": null}}},
            {"data": {"name": "d"}, "transform": [{"filter": "datum.model=='For-admixture' && datum.arch=='modular' && datum.eps=='0.1' && datum.s==0"}], "mark": {"type": "text", "fontSize": 20, "align": "left", "baseline": "alphabetic", "fill": "#000000"}, "encoding": {"text": {"value": "modular"}, "x": {"datum": 0.002}, "y": {"datum": 9.3}}},
            {"data": {"name": "d"}, "transform": [{"filter": "datum.model=='For-admixture' && datum.arch=='modular' && datum.eps=='0.1' && datum.s==0"}], "mark": {"type": "text", "fontSize": 26, "fontWeight": "bold", "fontStyle": "italic", "align": "right", "baseline": "alphabetic", "fill": "#000000"}, "encoding": {"text": {"value": "s"}, "x": {"datum": 0.0395}, "y": {"datum": -4.74}}},
            {"data": {"name": "d"}, "transform": [{"filter": "datum.model=='For-admixture' && datum.arch=='modular' && datum.eps=='0.1' && datum.s==0"}], "mark": {"type": "text", "fontSize": 16, "align": "left", "baseline": "alphabetic", "fill": "#000000"}, "encoding": {"text": {"value": "adaptive"}, "x": {"datum": 0.0399}, "y": {"datum": -5.27}}}
          ]
        }
      ]
    }
  ]
}
